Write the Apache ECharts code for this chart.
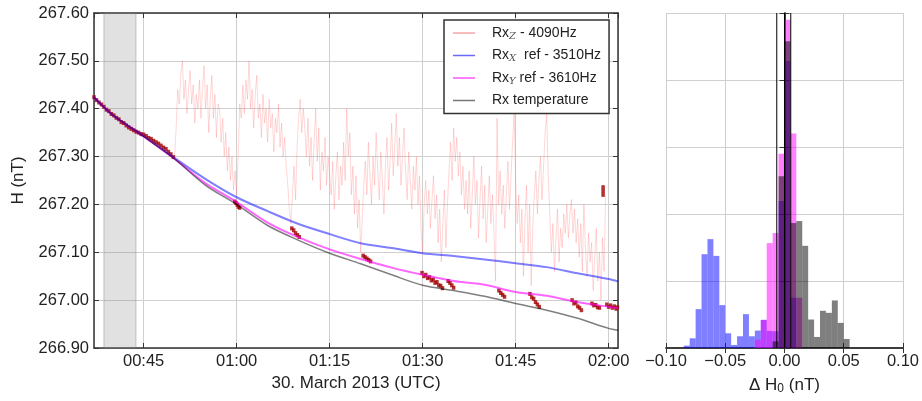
<!DOCTYPE html>
<html><head><meta charset="utf-8">
<script src="https://cdn.jsdelivr.net/npm/echarts@6.0.0/dist/echarts.min.js"></script>
<style>html,body{margin:0;padding:0;background:#fff}#c{width:922px;height:401px}</style>
</head><body><div id="c"></div>
<script>
// ---- time frame (minutes after 00:00 UTC, 30 March 2013) ----
const DAY0 = Date.UTC(2013, 2, 30, 0, 0, 0);
const timeMin = 37.0, timeMax = 121.5;
const shadeStart = 38.6, shadeEnd = 43.77;

// ---- smooth reference curves ----
const curveTimes = [37, 40, 45, 50, 55, 60, 65, 70, 75, 80, 85, 90, 95, 100, 105, 110, 115, 120, 121.5];
const refX = [267.424, 267.387, 267.343, 267.297, 267.253, 267.215, 267.186, 267.159, 267.138, 267.119, 267.109, 267.098, 267.092, 267.085, 267.077, 267.069, 267.056, 267.044, 267.039];
const refY = [267.424, 267.387, 267.342, 267.295, 267.244, 267.205, 267.162, 267.131, 267.106, 267.086, 267.068, 267.053, 267.040, 267.032, 267.017, 267.009, 266.996, 266.986, 266.983];
const tempRef = [267.424, 267.387, 267.342, 267.295, 267.240, 267.200, 267.156, 267.125, 267.098, 267.076, 267.053, 267.031, 267.020, 267.008, 266.993, 266.979, 266.962, 266.941, 266.937];

// ---- noisy Rx_Z trace, sampled every 0.25 min from 00:50 ----
const rxZStart = 50.0, rxZStep = 0.25;
const rxZ = [
267.30,267.36,267.44,267.41,
267.47,267.50,267.42,267.46,267.39,267.44,267.48,267.41,267.45,267.37,267.43,267.40,267.46,267.38,267.44,267.49,267.40,267.45,267.35,267.42,267.47,267.38,267.43,267.34,267.41,
267.40,267.33,267.38,267.30,267.35,267.27,267.32,267.25,267.30,267.23,267.27,267.22,
267.30,267.41,267.38,267.45,
267.39,267.46,267.42,267.50,267.40,267.44,267.36,267.43,267.47,267.38,267.41,267.34,267.43,267.37,267.40,267.33,267.42,267.36,267.39,267.31,267.38,267.35,267.41,267.32,267.37,267.30,267.34,267.28,
267.24,267.19,267.16,267.22,267.28,267.21,
267.32,267.38,267.42,267.35,267.40,267.36,
267.30,267.38,267.28,267.34,267.25,267.33,267.40,267.29,267.36,267.23,267.31,267.27,267.34,267.24,267.30,267.26,
267.22,267.29,267.19,267.26,267.31,267.21,267.28,267.24,267.33,267.25,267.40,267.30,267.35,267.22,267.28,267.18,
267.26,267.15,267.21,267.10,267.17,267.24,
267.29,267.22,267.33,267.26,267.20,267.30,267.24,267.35,267.27,267.21,267.31,267.25,267.18,267.28,267.34,267.23,267.29,267.37,267.26,267.32,267.39,267.28,267.34,267.24,267.30,267.36,267.27,267.21,267.31,267.25,267.19,267.28,267.23,267.30,267.20,267.26,
267.14,267.10,267.20,267.25,267.18,267.23,267.15,267.21,267.26,267.17,267.22,267.12,267.19,267.08,267.16,267.23,267.11,267.20,
267.27,267.33,267.25,267.36,267.29,267.34,267.26,267.31,267.22,267.28,267.19,267.25,
267.18,267.27,267.15,267.22,267.30,267.20,267.25,267.13,267.21,267.28,267.17,267.24,267.12,267.19,267.26,267.16,267.22,267.14,
267.04,267.38,267.20,
267.27,267.18,267.24,267.15,267.22,267.29,267.19,267.26,267.33,267.39,267.25,
267.16,267.22,267.12,267.19,267.05,267.17,267.24,267.10,267.20,267.03,267.15,267.22,
267.27,267.18,267.25,267.30,267.21,267.28,267.35,267.39,267.26,
267.18,267.10,267.16,267.06,267.13,267.19,267.08,267.15,267.11,267.18,267.14,
267.20,267.13,267.18,267.21,267.14,267.19,267.12,267.17,
267.09,267.16,267.06,267.20,267.11,267.05,267.14,267.08,
267.12,267.02,267.09,267.15,267.04,267.10,267.00,267.13,267.06,267.22
];

// ---- dark red Rx points [minute, H] ----
const rxPoints = [
[37.0,267.424],[37.4,267.418],[37.8,267.413],[38.2,267.409],[38.6,267.404],[39.0,267.398],[39.4,267.395],[39.8,267.389],
[40.2,267.386],[40.6,267.381],[41.0,267.378],[41.4,267.372],[41.8,267.370],[42.2,267.365],[42.6,267.361],[43.0,267.358],
[43.4,267.355],[43.8,267.352],[44.2,267.350],[44.6,267.347],[45.0,267.346],[45.4,267.343],[45.8,267.339],[46.2,267.337],
[46.6,267.333],[47.0,267.330],[47.4,267.327],[47.8,267.323],[48.2,267.319],[48.6,267.316],[49.0,267.310],[49.4,267.305],[49.8,267.299],
[59.7,267.206],[59.9,267.203],[60.1,267.199],[60.3,267.195],[60.5,267.193],
[68.9,267.150],[69.2,267.146],[69.5,267.140],[69.8,267.136],[70.1,267.132],
[80.4,267.093],[80.7,267.090],[81.0,267.087],[81.3,267.084],[81.6,267.081],
[89.9,267.057],[90.2,267.050],[90.5,267.053],[90.8,267.046],[91.1,267.048],[91.4,267.041],[91.7,267.043],[92.0,267.036],[92.3,267.038],[92.6,267.031],[92.9,267.030],[93.2,267.025],
[94.1,267.040],[94.4,267.036],[94.7,267.031],[95.0,267.026],
[102.3,267.020],[102.6,267.015],[102.9,267.011],[103.2,267.007],
[107.3,267.013],[107.6,267.006],[107.9,267.003],[108.2,266.996],[108.5,266.991],[108.8,266.986],
[114.1,267.000],[114.4,266.993],[114.7,266.995],[115.0,266.987],[115.3,266.984],[115.6,266.979],
[117.3,266.993],[117.6,266.989],[117.9,266.990],[118.2,266.985],[118.5,266.984],
[119.1,267.236],[119.1,267.228],[119.1,267.220],
[119.7,266.991],[120.0,266.986],[120.3,266.989],[120.6,266.984],[120.9,266.987],[121.2,266.982],[121.4,266.985]
];

// ---- histogram of delta H0 (bin left edges, width 0.005) ----
const binWidth = 0.005;
const histBins = [-0.085,-0.080,-0.075,-0.070,-0.065,-0.060,-0.055,-0.050,-0.045,-0.040,-0.035,-0.030,-0.025,-0.020,-0.015,-0.010,-0.005,0.000,0.005,0.010,0.015,0.020,0.025,0.030,0.035,0.040,0.045,0.050];
const histX = [0.7,2.9,11.6,28,32.5,27.5,12.8,4.4,0.9,3.5,10.1,3.5,5.2,8.4,5.1,5,43.9,85.7,15,0,0,0,0,0,0,0,0,0];
const histY = [0,0,0,0,0,0,0,0,0,0,0,0,2.5,8.4,31.3,34.3,58,98,64,15,0,0,0,0,0,0,0,0];
const histT = [0,0,0,0,0,0,0,0,0,0,0,0,0,0,0,2,51.3,91.6,37.3,37.9,30.5,8.5,3.3,11.1,10.5,14.2,7.5,2.7];
const histLines = [-0.0065, 0, 0.0053];

const xTickLabelsFmt = '{HH}:{mm}';
const legendNames = {
  RxZ: '{n|Rx}{s|Z}{n| - 4090Hz}',
  RxX: '{n|Rx}{s|X}{n|  ref - 3510Hz}',
  RxY: '{n|Rx}{s|Y}{n| ref - 3610Hz}',
  RxT: '{n|Rx temperature}'
};

// ---------------------------------------------------------------
const toMs = m => DAY0 + m * 60000;
const F = 'Liberation Sans, Arial, sans-serif';
const TXT = '#222';
const axLine = {show: true, lineStyle: {color: '#333', width: 1.5}};
const tickIn = {show: true, inside: true, length: 5, lineStyle: {color: '#333', width: 1}};
const gridLn = {show: true, lineStyle: {color: '#cfcfcf', width: 1}};
const noLabel = {show: false};
const FS = 16.5;

function histRender(fill) {
  return function (params, api) {
    const x0 = api.value(0), h = api.value(1);
    const p0 = api.coord([x0, h]);
    const p1 = api.coord([x0 + binWidth, 0]);
    return {type: 'rect', shape: {x: p0[0], y: p0[1], width: p1[0] - p0[0], height: p1[1] - p0[1]}, style: {fill: fill}};
  };
}
const histData = arr => histBins.map((b, i) => [b, arr[i]]).filter(d => d[1] > 0);

// time scale picks its nice 15-minute step for approx intervals in (15, 20] min
const timeAxisBase = {
  type: 'time', gridIndex: 0, min: toMs(timeMin), max: toMs(timeMax),
  minInterval: 16 * 60000, maxInterval: 16 * 60000,
  axisLine: axLine, axisTick: tickIn
};
const histAxisBase = {type: 'value', gridIndex: 1, min: -0.1, max: 0.1, interval: 0.05, axisLine: axLine, axisTick: tickIn};

const series = [
  {
    name: 'RxZ', type: 'line', xAxisIndex: 0, yAxisIndex: 0, symbol: 'none', silent: true,
    color: 'rgba(255,80,80,0.26)', lineStyle: {color: 'rgba(255,80,80,0.26)', width: 0.9},
    data: rxZ.map((v, i) => [toMs(rxZStart + i * rxZStep), v]),
    markArea: {silent: true, itemStyle: {color: 'rgba(140,140,140,0.26)', borderColor: 'rgba(110,110,110,0.35)', borderWidth: 1},
      data: [[{xAxis: toMs(shadeStart)}, {xAxis: toMs(shadeEnd)}]]}
  },
  {
    name: 'points', type: 'scatter', xAxisIndex: 0, yAxisIndex: 0, symbol: 'rect', symbolSize: [3.5, 4], silent: true,
    itemStyle: {color: '#a00000'}, data: rxPoints.map(p => [toMs(p[0]), p[1]])
  },
  {
    name: 'RxX', type: 'line', xAxisIndex: 0, yAxisIndex: 0, symbol: 'none', smooth: 0.3, silent: true,
    color: 'rgba(0,0,255,0.5)', lineStyle: {color: 'rgba(0,0,255,0.5)', width: 2},
    data: curveTimes.map((t, i) => [toMs(t), refX[i]])
  },
  {
    name: 'RxY', type: 'line', xAxisIndex: 0, yAxisIndex: 0, symbol: 'none', smooth: 0.3, silent: true,
    color: 'rgba(255,0,255,0.6)', lineStyle: {color: 'rgba(255,0,255,0.6)', width: 2},
    data: curveTimes.map((t, i) => [toMs(t), refY[i]])
  },
  {
    name: 'RxT', type: 'line', xAxisIndex: 0, yAxisIndex: 0, symbol: 'none', smooth: 0.3, silent: true,
    color: 'rgba(0,0,0,0.5)', lineStyle: {color: 'rgba(0,0,0,0.5)', width: 1.5},
    data: curveTimes.map((t, i) => [toMs(t), tempRef[i]])
  },
  {name: 'hX', type: 'custom', xAxisIndex: 2, yAxisIndex: 2, clip: true, silent: true, renderItem: histRender('rgba(0,0,255,0.5)'), encode: {x: 0, y: 1}, data: histData(histX)},
  {name: 'hY', type: 'custom', xAxisIndex: 2, yAxisIndex: 2, clip: true, silent: true, renderItem: histRender('rgba(255,0,255,0.5)'), encode: {x: 0, y: 1}, data: histData(histY)},
  {name: 'hT', type: 'custom', xAxisIndex: 2, yAxisIndex: 2, clip: true, silent: true, renderItem: histRender('rgba(0,0,0,0.5)'), encode: {x: 0, y: 1}, data: histData(histT)}
];
histLines.forEach((v, i) => series.push({
  name: 'vl' + i, type: 'line', xAxisIndex: 2, yAxisIndex: 2, symbol: 'none', silent: true,
  lineStyle: {color: '#000', width: 1}, data: [[v, 0], [v, 100]]
}));

const option = {
  useUTC: true,
  animation: false,
  textStyle: {fontFamily: F},
  grid: [
    {left: 94, top: 13, width: 524, height: 335},
    {left: 666, top: 13, width: 238, height: 335}
  ],
  xAxis: [
    Object.assign({}, timeAxisBase, {
      position: 'bottom', splitLine: gridLn,
      axisLabel: {formatter: xTickLabelsFmt, fontSize: FS, color: TXT, margin: 5, fontFamily: F},
      name: '30. March 2013 (UTC)', nameLocation: 'middle', nameGap: 27,
      nameTextStyle: {fontSize: 17, color: TXT, fontFamily: F}
    }),
    Object.assign({}, timeAxisBase, {position: 'top', splitLine: {show: false}, axisLabel: noLabel}),
    Object.assign({}, histAxisBase, {
      position: 'bottom', splitLine: gridLn,
      axisLabel: {fontSize: FS, color: TXT, margin: 5, fontFamily: F,
        formatter: v => (v < 0 ? '\u2212' : '') + Math.abs(v).toFixed(2)},
      name: '{a|\u0394 H}{s|0}{a| (nT)}', nameLocation: 'middle', nameGap: 27,
      nameTextStyle: {fontSize: 17, color: TXT, fontFamily: F,
        rich: {a: {fontSize: 17, color: TXT, fontFamily: F, lineHeight: 20},
               s: {fontSize: 12, color: TXT, fontFamily: F, lineHeight: 12, verticalAlign: 'bottom'}}}
    }),
    Object.assign({}, histAxisBase, {position: 'top', splitLine: {show: false}, axisLabel: noLabel})
  ],
  yAxis: [
    {type: 'value', gridIndex: 0, position: 'left', min: 266.9, max: 267.6, interval: 0.1,
      axisLine: axLine, axisTick: tickIn, splitLine: gridLn,
      axisLabel: {fontSize: FS, color: TXT, margin: 5, fontFamily: F, formatter: v => v.toFixed(2)},
      name: 'H (nT)', nameLocation: 'middle', nameGap: 67, nameRotate: 90,
      nameTextStyle: {fontSize: 17, color: TXT, fontFamily: F}},
    {type: 'value', gridIndex: 0, position: 'right', min: 266.9, max: 267.6, interval: 0.1,
      axisLine: axLine, axisTick: tickIn, splitLine: {show: false}, axisLabel: noLabel},
    {type: 'value', gridIndex: 1, position: 'left', min: 0, max: 100, interval: 20,
      axisLine: axLine, axisTick: tickIn, splitLine: gridLn, axisLabel: noLabel},
    {type: 'value', gridIndex: 1, position: 'right', min: 0, max: 100, interval: 20,
      axisLine: axLine, axisTick: tickIn, splitLine: {show: false}, axisLabel: noLabel}
  ],
  legend: {
    left: 444, top: 20, orient: 'vertical', padding: [5, 8, 5, 9], itemGap: 6.5,
    itemWidth: 22, itemHeight: 1.5, icon: 'rect', selectedMode: false,
    backgroundColor: '#fff', borderColor: '#333', borderWidth: 1.5, borderRadius: 0,
    data: [
      {name: 'RxZ', itemStyle: {color: '#f6a4a4'}},
      {name: 'RxX', itemStyle: {color: '#6a6af8'}},
      {name: 'RxY', itemStyle: {color: '#ff55ff'}},
      {name: 'RxT', itemStyle: {color: '#777777'}}
    ],
    formatter: n => legendNames[n],
    textStyle: {fontSize: 14, color: TXT, fontFamily: F, lineHeight: 16, padding: [0, 0, 0, 12],
      rich: {
        n: {fontSize: 14, color: TXT, fontFamily: F, lineHeight: 16},
        s: {fontSize: 10, color: '#555', fontFamily: 'DejaVu Serif', fontStyle: 'italic', lineHeight: 10, verticalAlign: 'bottom'}
      }}
  },
  series: series
};
const chart = echarts.init(document.getElementById('c'), null, {renderer: 'canvas'});
chart.setOption(option);
</script>
</body></html>
